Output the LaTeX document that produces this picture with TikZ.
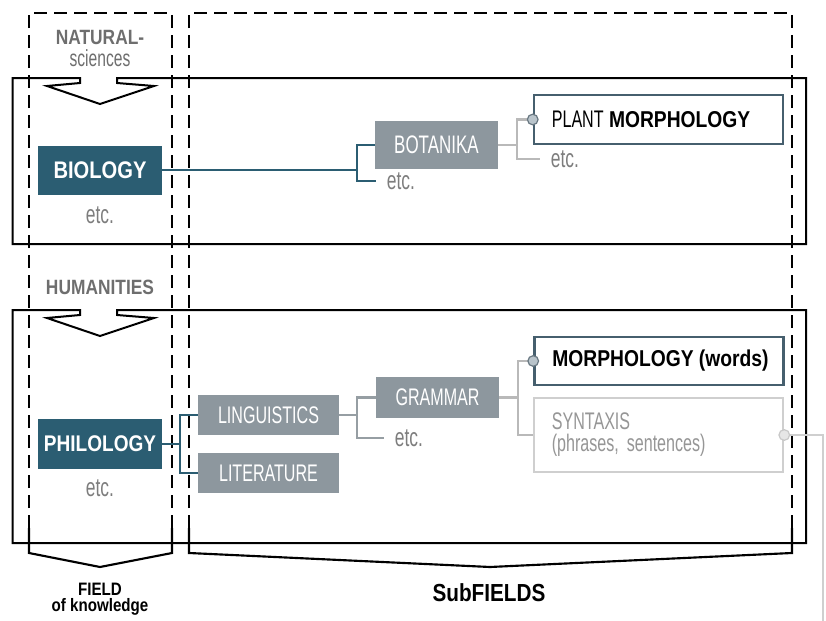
\documentclass[tikz,border=0pt]{standalone}
\usepackage{fontspec}
\setmainfont{Liberation Sans}[FakeStretch=0.84]
\newfontfamily\condreg{Liberation Sans}[FakeStretch=0.67]
\definecolor{tealc}{RGB}{43,93,114}
\definecolor{boxg}{RGB}{141,151,158}
\definecolor{slate}{RGB}{70,95,110}
\definecolor{etcg}{RGB}{125,125,125}
\definecolor{hdrg}{RGB}{110,110,110}
\definecolor{midline}{RGB}{150,158,163}
\definecolor{liteline}{RGB}{185,185,185}
\definecolor{synb}{RGB}{207,207,207}
\definecolor{synt}{RGB}{150,150,150}
\definecolor{circf}{RGB}{185,196,203}
\definecolor{circd}{RGB}{105,120,130}
\definecolor{circf2}{RGB}{230,230,230}
\definecolor{circd2}{RGB}{200,200,200}
\begin{document}
\begin{tikzpicture}[x=0.75pt,y=-0.75pt,
  frame/.style={line width=1.5pt, draw=black, line join=miter},
  dashframe/.style={line width=1.9pt, draw=black, dash pattern=on 9.75pt off 5.25pt},
  bracel/.style={line width=1.6pt, draw=black, line join=miter},
  darkbox/.style={fill=tealc, text=white, inner sep=0pt, minimum width=93pt},
  graybox/.style={fill=boxg, text=white, font=\condreg\fontsize{18pt}{20pt}\selectfont, inner sep=0pt},
  etcs/.style={text=etcg, font=\condreg\fontsize{19.5pt}{22pt}\selectfont, inner sep=0pt},
  etcl/.style={etcs, anchor=west, inner xsep=8pt},
  hdr/.style={text=hdrg, inner sep=0pt},
  whitebox/.style={draw=slate, line width=1.9pt, fill=white, inner ysep=0pt, inner xsep=13pt, minimum width=186.75pt, text=black, font=\bfseries\fontsize{17.2pt}{20pt}\selectfont},
  synbox/.style={draw=synb, line width=1.9pt, fill=white, inner ysep=0pt, inner xsep=13pt, minimum width=186.75pt, minimum height=55.5pt, text=synt, font=\condreg\fontsize{18pt}{16.5pt}\selectfont},
  tealline/.style={draw=tealc, line width=1.6pt},
  midl/.style={draw=midline, line width=1.6pt},
  litel/.style={draw=liteline, line width=1.6pt},
  dot/.style={circle, minimum size=8pt, inner sep=0pt, fill=circf, draw=circd, line width=0.9pt},
  dotl/.style={circle, minimum size=8pt, inner sep=0pt, fill=circf2, draw=circd2, line width=0.9pt}
]
\useasboundingbox (0,0) rectangle (826,621);

% solid frames with arrows
\draw[frame] (117,78) -- (806,78) -- (806,244) -- (12.7,244) -- (12.7,78) -- (80,78) -- (80,83) -- (47,86) -- (100,104) -- (154,86) -- (117,83) -- cycle;
\draw[frame] (117,310) -- (806,310) -- (806,543) -- (12.7,543) -- (12.7,310) -- (80,310) -- (80,315) -- (47,318) -- (100,336) -- (154,318) -- (117,315) -- cycle;

% dashed columns and braces
\draw[dashframe] (29,528) -- (29,13) -- (172,13) -- (172,528);
\draw[dashframe] (189,528) -- (189,13) -- (792,13) -- (792,528);
\draw[bracel] (29,528) -- (29,553) -- (100,567) -- (172,553) -- (172,528);
\draw[bracel] (189,528) -- (189,553) -- (490,567) -- (792,553) -- (792,528);

% headers
\node[hdr, font=\bfseries\fontsize{15.5pt}{18pt}\selectfont] (nat) at (100,37) {NATURAL-};
\node[hdr, font=\condreg\fontsize{17.5pt}{20pt}\selectfont] (sci) at (100,58) {sciences};
\node[hdr, font=\bfseries\fontsize{15.5pt}{18pt}\selectfont] (hum) at (100,287) {HUMANITIES};
\node[align=center, inner sep=0pt, font=\bfseries\fontsize{13.5pt}{12pt}\selectfont] (field) at (100,599) {FIELD\\of knowledge};
\node[inner sep=0pt, font=\bfseries\fontsize{18.5pt}{20pt}\selectfont] (subf) at (489,593) {SubFIELDS};

% upper tree
\node[darkbox, minimum height=36.75pt, font=\bfseries\fontsize{18pt}{20pt}\selectfont] (bio) at (100,170) {BIOLOGY};
\node[etcs] (etc0) at (100,215) {etc.};
\node[graybox, minimum width=92.25pt, minimum height=36pt, font=\condreg\fontsize{19pt}{20pt}\selectfont] (bot) at (436.5,145) {BOTANIKA};
\node[etcl] (etc1) at (376,181) {etc.};
\node[whitebox, minimum height=36.75pt] (plant) at (658.5,119.5) {\makebox[160pt][l]{{\condreg\mdseries\fontsize{18pt}{20pt}\selectfont PLANT} MORPHOLOGY}};
\node[etcl] (etc2) at (540,159) {etc.};
\coordinate (jb) at (357,0);
\coordinate (jc) at (517,0);
\draw[tealline] (bio.east) -- (bio.east -| jb);
\draw[tealline] (bot.west) -| (jb |- etc1.west) -- (etc1.west);
\draw[litel] (bot.east) -| (jc |- plant.west) -- (plant.west);
\draw[litel] (jc |- plant.west) -- (jc |- etc2.west) -- (etc2.west);
\node[dot] (c1) at (plant.west) {};

% lower tree
\node[darkbox, minimum height=37.5pt, font=\bfseries\fontsize{17pt}{20pt}\selectfont] (phil) at (100,444) {PHILOLOGY};
\node[etcs] (etc3) at (100,488) {etc.};
\node[graybox, minimum width=105.75pt, minimum height=30pt] (ling) at (268.5,415) {LINGUISTICS};
\node[graybox, minimum width=105.75pt, minimum height=30pt] (lit) at (268.5,473) {LITERATURE};
\node[graybox, minimum width=92.25pt, minimum height=30.75pt] (gram) at (437.5,397.5) {GRAMMAR};
\node[etcl] (etc4) at (384,438) {etc.};
\node[whitebox, minimum height=36pt] (morph) at (659,361) {\makebox[160pt][l]{MORPHOLOGY (words)}};
\node[synbox, text width=160pt, align=left] (syn) at (658.5,435) {SYNTAXIS\\(phrases, sentences)};
\coordinate (jp) at (180,0);
\coordinate (jl) at (357,0);
\coordinate (jg) at (518,0);
\coordinate (endl) at (823,621);
\draw[tealline] (phil.east) -- (phil.east -| jp);
\draw[tealline] (ling.west) -| (jp |- lit.west) -- (lit.west);
\draw[midl] (ling.east) -- (ling.east -| jl);
\draw[midl] (gram.west) -| (jl |- etc4.west) -- (etc4.west);
\draw[litel] (gram.east) -| (jg |- morph.west) -- (morph.west);
\draw[litel] (jg |- morph.west) -- (jg |- syn.west) -- (syn.west);
\draw[draw=synb, line width=2pt] (syn.east) -- (syn.east -| endl) -- (endl);
\node[dot] (c2) at (morph.west) {};
\node[dotl] (c3) at (syn.east) {};
\end{tikzpicture}
\end{document}
